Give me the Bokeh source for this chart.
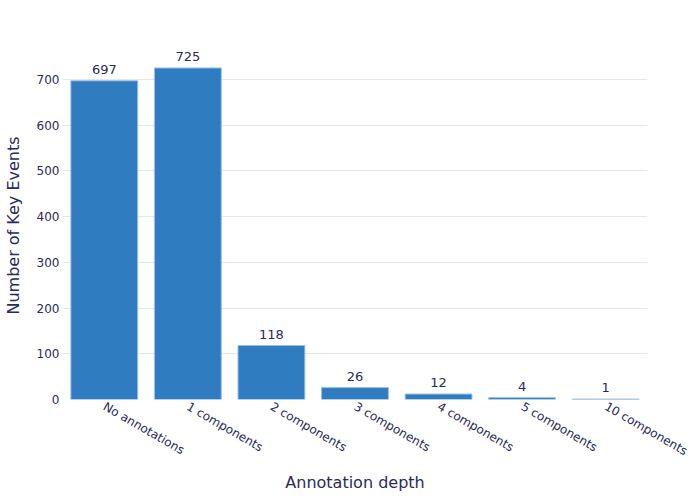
from bokeh.plotting import figure
from bokeh.models import ColumnDataSource, FixedTicker, FactorRange, Range1d
from bokeh.core.properties import value
from bokeh.embed import file_html
from bokeh.resources import INLINE
import math

categories = ["No annotations", "1 components", "2 components", "3 components",
              "4 components", "5 components", "10 components"]
counts = [697, 725, 118, 26, 12, 4, 1]
y_ticks = [0, 100, 200, 300, 400, 500, 600, 700]

TXT = "#2a2a5c"
FONT = "DejaVu Sans"

src = ColumnDataSource(dict(cat=categories, n=counts, lab=[str(c) for c in counts]))

p = figure(x_range=FactorRange(factors=categories), y_range=Range1d(0, 761),
           width=700, height=500, output_backend="svg", toolbar_location=None,
           min_border_left=62, min_border_right=53, min_border_top=51, min_border_bottom=101)
p.outline_line_color = None
p.background_fill_color = "white"

p.vbar(x="cat", top="n", width=0.8, source=src, fill_color="#307cc0",
       line_color="#9cc1e6", line_width=1)
p.text(x="cat", y="n", text="lab", source=src, text_align="center", text_baseline="bottom",
       y_offset=-7, text_font=value(FONT), text_font_size="13px", text_color=TXT)

p.xgrid.grid_line_color = None
p.ygrid.grid_line_color = "#e6e6e6"
p.ygrid.grid_line_width = 1
p.yaxis.ticker = FixedTicker(ticks=y_ticks)

for ax in (p.xaxis, p.yaxis):
    ax.axis_line_color = None
    ax.major_tick_line_color = None
    ax.minor_tick_line_color = None
    ax.major_tick_out = 0
    ax.major_tick_in = 0
    ax.minor_tick_out = 0
    ax.minor_tick_in = 0
    ax.major_label_text_font = FONT
    ax.major_label_text_font_size = "12px"
    ax.major_label_text_color = TXT
    ax.axis_label_text_font = FONT
    ax.axis_label_text_font_size = "16px"
    ax.axis_label_text_font_style = "normal"
    ax.axis_label_text_color = TXT

p.yaxis.axis_label = "Number of Key Events"
p.xaxis.axis_label = "Annotation depth"
p.yaxis.major_label_standoff = 3
p.xaxis.major_label_orientation = -math.pi / 6
p.xaxis.major_label_standoff = 6
p.xaxis.axis_label_standoff = 6
p.yaxis.axis_label_standoff = 11

open("out.html", "w").write(file_html(p, INLINE))
